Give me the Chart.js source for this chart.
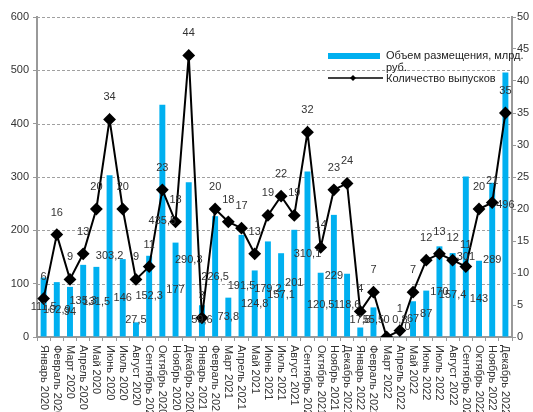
<!DOCTYPE html>
<html>
<head>
<meta charset="utf-8">
<script src="https://cdn.jsdelivr.net/npm/chart.js@4"></script>
<style>
  body { margin: 0; overflow: hidden; background: #fff; }
</style>
</head>
<body>
<canvas id="chart" width="533" height="412"></canvas>
<script>
// Месяцы
const months = ['Январь 2020', 'Февраль 2020', 'Март 2020', 'Апрель 2020', 'Май 2020', 'Июнь 2020',
    'Июль 2020', 'Август 2020', 'Сентябрь 2020', 'Октябрь 2020', 'Ноябрь 2020', 'Декабрь 2020',
    'Январь 2021', 'Февраль 2021', 'Март 2021', 'Апрель 2021', 'Май 2021', 'Июнь 2021',
    'Июль 2021', 'Август 2021', 'Сентябрь 2021', 'Октябрь 2021', 'Ноябрь 2021', 'Декабрь 2021',
    'Январь 2022', 'Февраль 2022', 'Март 2022', 'Апрель 2022', 'Май 2022', 'Июнь 2022',
    'Июль 2022', 'Август 2022', 'Сентябрь 2022', 'Октябрь 2022', 'Ноябрь 2022', 'Декабрь 2022'];

// Объем размещения, млрд. руб.
const volume = [111.5, 102.9, 94, 135.3, 131.5, 303.2, 146, 27.5, 152.3, 435.5, 177, 290.3,
    59.6, 226.5, 73.8, 191.5, 124.8, 179.2, 157.1, 201, 310.1, 120.5, 229, 118.6,
    17.8, 55.5, 0, 0.8, 67, 87, 170, 157.4, 301, 143, 289, 496];

// Количество выпусков
const issues = [6, 16, 9, 13, 20, 34, 20, 9, 11, 23, 18, 44,
    3, 20, 18, 17, 13, 19, 22, 19, 32, 14, 23, 24,
    4, 7, 0, 1, 7, 12, 13, 12, 11, 20, 21, 35];

const leftTicks = [0, 100, 200, 300, 400, 500, 600];
const rightTicks = [0, 5, 10, 15, 20, 25, 30, 35, 40, 45, 50];

const FONT = '11px "Liberation Sans", Arial, sans-serif';
const BLUE = '#00B0F0';

function fmt(v) {
    return String(v).replace('.', ',');
}

// пунктирная сетка, подписи данных, ось X и легенда
const extras = {
    id: 'extras',
    beforeDatasetsDraw(chart) {
        const ctx = chart.ctx;
        const y = chart.scales.y;
        const area = chart.chartArea;
        ctx.save();
        ctx.strokeStyle = '#a0a0a0';
        ctx.lineWidth = 1;
        ctx.setLineDash([3, 2]);
        leftTicks.forEach(v => {
            if (v === 0) return;
            const py = Math.round(y.getPixelForValue(v)) + 0.5;
            ctx.beginPath();
            ctx.moveTo(area.left, py);
            ctx.lineTo(area.right, py);
            ctx.stroke();
        });
        ctx.restore();
    },
    afterDatasetsDraw(chart) {
        const ctx = chart.ctx;
        const x = chart.scales.x;
        const y = chart.scales.y;
        const base = y.getPixelForValue(0);
        ctx.save();
        ctx.font = FONT;
        ctx.fillStyle = '#333';
        ctx.textAlign = 'center';
        ctx.textBaseline = 'middle';

        // подписи столбцов
        chart.getDatasetMeta(1).data.forEach((bar, i) => {
            const mid = (bar.y + base) / 2;
            ctx.fillText(fmt(volume[i]), bar.x, Math.min(mid, base - 17));
        });

        // подписи линии
        chart.getDatasetMeta(0).data.forEach((pt, i) => {
            if (issues[i] === 0) {
                ctx.fillText(fmt(issues[i]), pt.x + 21, pt.y - 10);
            } else {
                ctx.fillText(fmt(issues[i]), pt.x, pt.y - 22);
            }
        });

        // подписи оси X (повернуты)
        ctx.textAlign = 'left';
        months.forEach((m, i) => {
            const px = x.getPixelForValue(i);
            ctx.save();
            ctx.translate(px, base + 8);
            ctx.rotate(Math.PI / 2);
            ctx.fillText(m, 0, 0);
            ctx.restore();
        });

        // легенда
        ctx.fillStyle = BLUE;
        ctx.fillRect(328, 53, 52, 6);
        ctx.strokeStyle = '#000';
        ctx.lineWidth = 1.5;
        ctx.beginPath();
        ctx.moveTo(328, 78);
        ctx.lineTo(383, 78);
        ctx.stroke();
        ctx.fillStyle = '#000';
        ctx.beginPath();
        ctx.moveTo(353, 75);
        ctx.lineTo(356, 78);
        ctx.lineTo(353, 81);
        ctx.lineTo(350, 78);
        ctx.closePath();
        ctx.fill();
        ctx.fillStyle = '#222';
        ctx.fillText('Объем размещения, млрд.', 386, 56);
        ctx.fillText('руб.', 386, 68);
        ctx.fillText('Количество выпусков', 386, 79);
        ctx.restore();
    }
};

new Chart(document.getElementById('chart'), {
    type: 'bar',
    data: {
        labels: months,
        datasets: [{
            type: 'line',
            label: 'Количество выпусков',
            data: issues,
            yAxisID: 'y1',
            borderColor: '#000',
            borderWidth: 2,
            pointStyle: 'rectRot',
            pointRadius: 5,
            pointBackgroundColor: '#000',
            pointBorderColor: '#000',
            tension: 0,
            order: 0
        }, {
            label: 'Объем размещения, млрд. руб.',
            data: volume,
            yAxisID: 'y',
            backgroundColor: BLUE,
            barPercentage: 0.45,
            categoryPercentage: 1,
            order: 1
        }]
    },
    options: {
        responsive: false,
        animation: false,
        layout: { padding: { top: 17, left: 0, right: 0, bottom: 0 } },
        plugins: {
            legend: { display: false },
            tooltip: { enabled: false }
        },
        scales: {
            x: {
                grid: { display: true, drawOnChartArea: false, tickLength: 4, color: '#999', offset: true },
                border: { color: '#999', width: 2 },
                ticks: { callback: () => '', maxRotation: 0, autoSkip: false },
                afterFit(s) { s.height = 75; }
            },
            y: {
                position: 'left',
                min: 0,
                max: 600,
                afterBuildTicks(s) { s.ticks = leftTicks.map(v => ({ value: v })); },
                grid: { drawOnChartArea: false, tickLength: 4, color: '#999' },
                border: { color: '#999', width: 2 },
                ticks: { color: '#333', font: { family: '"Liberation Sans", Arial', size: 11 }, padding: 4 },
                afterFit(s) { s.width = 37; }
            },
            y1: {
                position: 'right',
                min: 0,
                max: 50,
                afterBuildTicks(s) { s.ticks = rightTicks.map(v => ({ value: v })); },
                grid: { drawOnChartArea: false, tickLength: 4, color: '#999' },
                border: { color: '#999', width: 2 },
                ticks: { color: '#333', font: { family: '"Liberation Sans", Arial', size: 11 }, padding: 1 },
                afterFit(s) { s.width = 21; }
            }
        }
    },
    plugins: [extras]
});
</script>
</body>
</html>
